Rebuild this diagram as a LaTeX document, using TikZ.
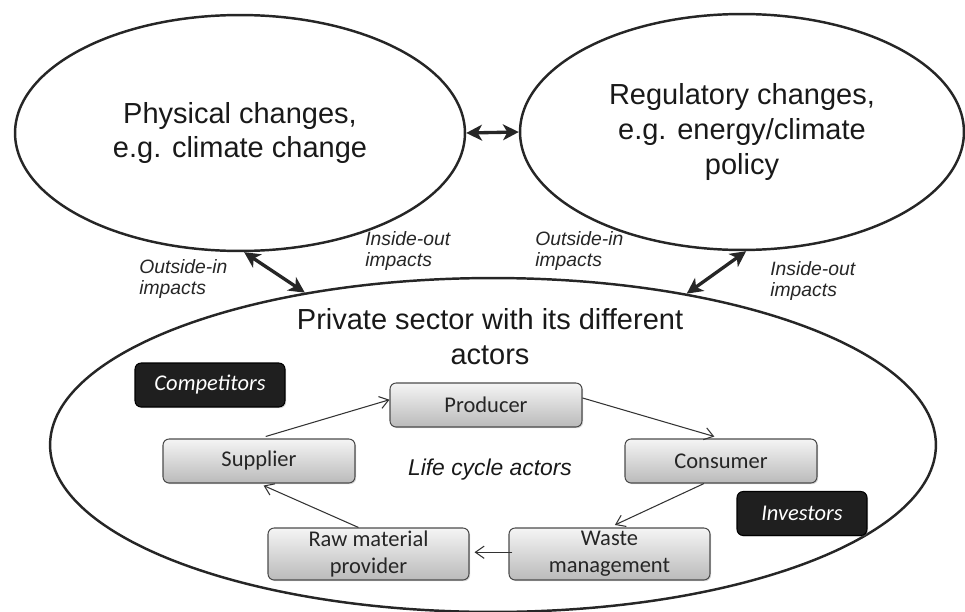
\documentclass[tikz,border=0pt]{standalone}
\usepackage{fontspec}
\setmainfont{Liberation Sans}
\newfontfamily\calibri{Carlito}
\usetikzlibrary{shapes.geometric,arrows.meta,shadows}

\begin{document}
\begin{tikzpicture}[x=0.02cm, y=-0.02cm,
    sphere/.style={draw=black!85, line width=1.4pt, ellipse, inner sep=0pt, align=center,
        text=black!90, font=\fontsize{16.5}{19.9}\selectfont},
    impact/.style={{Stealth[length=9pt,width=9pt,inset=2.5pt]}-{Stealth[length=9pt,width=9pt,inset=2.5pt]},
        line width=1.9pt, black!85},
    flow/.style={-{Straight Barb[length=5pt,width=7pt]}, line width=0.6pt, black!80},
    actor/.style={draw=black!70, line width=0.6pt, rounded corners=3.5pt,
        top color=black!4, bottom color=black!27, text=black!85, align=center,
        minimum width=3.84cm, minimum height=0.88cm, inner sep=1pt,
        font=\calibri\fontsize{12.8}{15.4}\selectfont,
        drop shadow={shadow xshift=0.7pt, shadow yshift=-0.7pt, opacity=0.3}},
    outsider/.style={draw=black, line width=0.6pt, rounded corners=3.5pt, fill=black!88,
        text=white, minimum height=0.88cm, inner sep=1pt,
        font=\calibri\itshape\fontsize{12.8}{15.4}\selectfont,
        drop shadow={shadow xshift=0.7pt, shadow yshift=-0.7pt, opacity=0.3}},
    note/.style={anchor=west, inner sep=0pt, align=left, text=black!85,
        font=\itshape\fontsize{11}{12.5}\selectfont}]

    \useasboundingbox (0,0) rectangle (965,612);

    % The two outer drivers
    \node[sphere, minimum width=9cm, minimum height=4.72cm] (phys) at (240,133)
        {Physical changes,\\e.g. climate change};
    \node[sphere, minimum width=8.88cm, minimum height=4.72cm] (reg) at (742,132)
        {Regulatory changes,\\e.g. energy/climate\\policy};

    % Private sector
    \node[sphere, minimum width=17.72cm, minimum height=6.68cm] (priv) at (493,445) {};
    \node[align=center, text=black!90, font=\fontsize{16.5}{19.9}\selectfont] (sector) at (490,337)
        {Private sector with its different\\actors};

    % Impacts between the three
    \draw[impact] (phys.east) -- (reg.west);
    \draw[impact] (phys.-88) -- (priv.141);
    \draw[impact] (reg.-88) -- (priv.38);

    \node[note] (oi1) at (139,279) {Outside-in\\impacts};
    \node[note] (io1) at (365,251) {Inside-out\\impacts};
    \node[note] (oi2) at (535,251) {Outside-in\\impacts};
    \node[note] (io2) at (770,281) {Inside-out\\impacts};

    % Life cycle actors
    \node[actor] (prod) at (486,405) {Producer};
    \node[actor] (supp) at (259,461) {Supplier};
    \node[actor] (cons) at (721,461) {Consumer};
    \node[actor, minimum width=4.02cm, minimum height=1.04cm] (raw) at (368.5,554) {Raw material\\provider};
    \node[actor, minimum width=4.02cm, minimum height=1.04cm] (waste) at (609.5,554) {Waste\\management};
    \node[font=\itshape\fontsize{13}{15}\selectfont, text=black!90] (cycle) at (490,470) {Life cycle actors};

    % Other actors
    \node[outsider, minimum width=3cm] (comp) at (210,385) {Competitors};
    \node[outsider, minimum width=2.6cm] (inv) at (802,513.5) {Investors};

    % The cycle
    \draw[flow, shorten <=1.4mm] (supp.north) -- ([yshift=3pt]prod.west);
    \draw[flow, shorten >=1.4mm] ([yshift=4pt]prod.east) -- (cons.north);
    \draw[flow, shorten >=1.2mm] ([xshift=-0.34cm]cons.south) -- (waste.north);
    \draw[flow, shorten <=-0.8mm, shorten >=1mm] ([yshift=1pt]waste.west) -- ([yshift=1pt]raw.east);
    \draw[flow, shorten >=1mm] ([xshift=-0.2cm]raw.north) -- (supp.south);

\end{tikzpicture}
\end{document}
